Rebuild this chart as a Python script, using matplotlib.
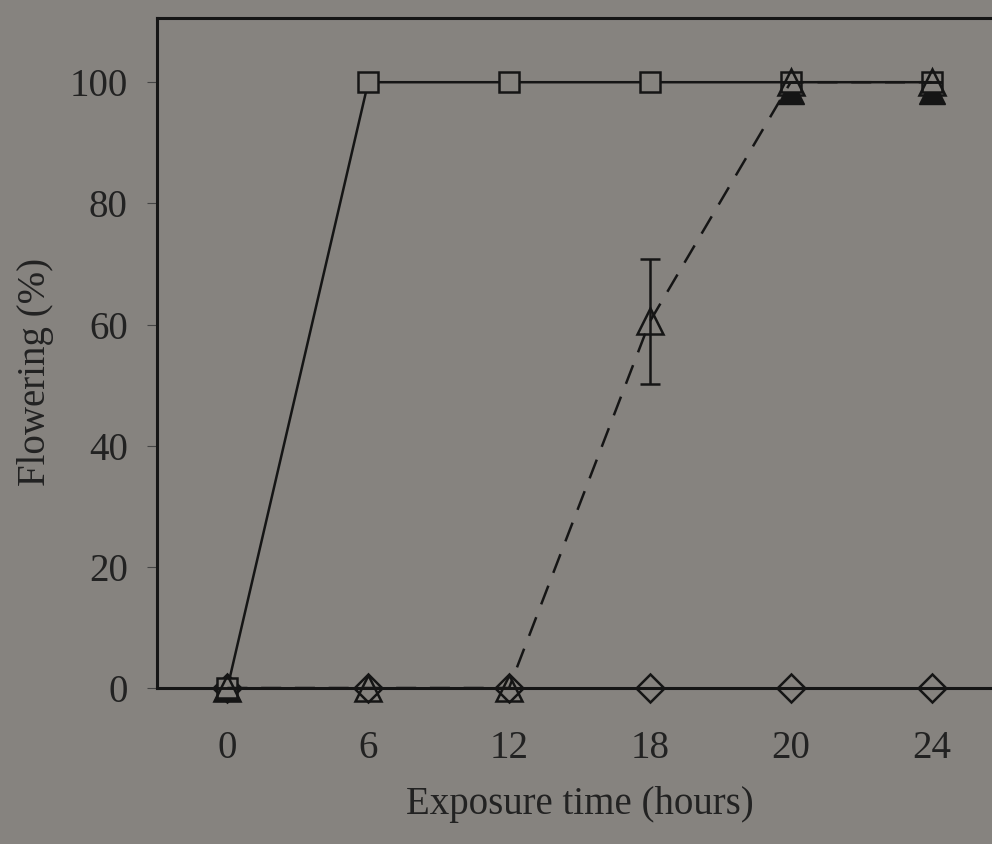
import matplotlib.pyplot as plt
import numpy as np

# data
horas = ['0', '6', '12', '18', '20', '24']
cuadrados = [0, 100, 100, 100, 100, 100]
triangulos = [0, 0, 0, 60.5, 100, 100]
error_tri = [0, 0, 0, 10.3, 0, 0]
tri_llenos = [0, np.nan, np.nan, np.nan, 98.5, 98.5]
rombos = [0, 0, 0, 0, 0, 0]
y_ticks = [0, 20, 40, 60, 80, 100]

fondo = '#86837f'
negro = '#151515'
plt.rcParams['font.family'] = ['Liberation Serif', 'DejaVu Serif']

fig = plt.figure(figsize=(9.92, 8.44), dpi=100, facecolor=fondo)
ax = fig.add_axes([157/992, 1-688/844, 1-157/992+0.01, (688-18)/844])
ax.set_facecolor(fondo)

x = np.arange(len(horas))

# rombos (linea sobre el eje)
ax.plot(x, rombos, color=negro, linewidth=1.8, marker='D', markersize=14.5,
        markerfacecolor='none', markeredgecolor=negro, markeredgewidth=1.8,
        zorder=3, clip_on=False)

# triangulos llenos (ocultos bajo los cuadrados)
ax.plot(x, tri_llenos, linestyle='none', marker='^', markersize=19,
        color=negro, zorder=3, clip_on=False)

# cuadrados
ax.plot(x, cuadrados, color=negro, linewidth=1.8, marker='s', markersize=14.5,
        markerfacecolor=fondo, markeredgecolor=negro, markeredgewidth=1.8,
        zorder=4, clip_on=False)

# triangulos con barra de error
ax.errorbar(x, triangulos, yerr=error_tri, color=negro, linewidth=1.8,
            dashes=(8, 5.5), marker='^', markersize=19, markerfacecolor='none',
            markeredgecolor=negro, markeredgewidth=1.8, elinewidth=1.8,
            capsize=7, capthick=2.2, zorder=5, clip_on=False)

ax.set_xlim(-0.5, 5.5)
ax.set_ylim(0, 110.6)

ax.set_xticks(x)
ax.set_xticklabels(horas)
ax.set_yticks(y_ticks)
ax.tick_params(axis='x', length=0, pad=30, labelsize=28, labelcolor='#222222')
ax.tick_params(axis='y', direction='out', length=7, width=0.8, color='#444444',
               pad=14, labelsize=28, labelcolor='#222222')

for lado in ['left', 'top', 'bottom']:
    ax.spines[lado].set_linewidth(2.2)
    ax.spines[lado].set_color(negro)
ax.spines['right'].set_visible(False)

ax.set_xlabel('Exposure time (hours)', fontsize=28, color='#222222', labelpad=14)
fig.text(36/992, 1-372/844, 'Flowering (%)', rotation=90, fontsize=28,
         color='#222222', ha='center', va='center')

fig.savefig('out.png', dpi=100, facecolor=fondo)
